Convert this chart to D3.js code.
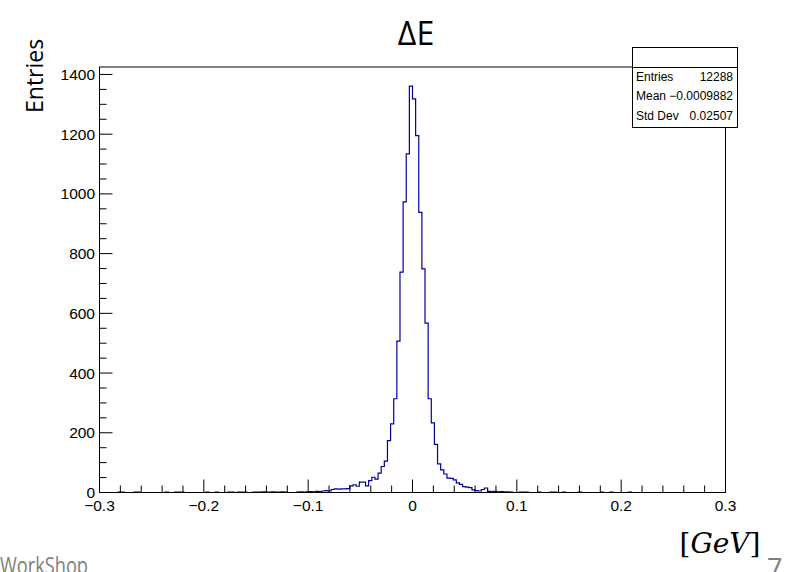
<!DOCTYPE html>
<html>
<head>
<meta charset="utf-8">
<script src="https://cdn.jsdelivr.net/npm/d3@7"></script>
<style>
  body { margin: 0; background: #fff; }
  svg { display: block; }
</style>
</head>
<body>
<svg id="visualization" width="790" height="572"></svg>
<script>
// histogram binning (200 bins, -0.3 .. 0.3)
const xMin = -0.3;
const xMax = 0.3;
const nBins = 200;

// bin contents, left to right
const counts = [
  0, 0, 0, 0, 0, 0, 1, 1, 0, 0,        // -0.300
  0, 1, 1, 0, 0, 0, 0, 0, 0, 0,        // -0.270
  0, 1, 0, 0, 1, 1, 1, 0, 0, 0,        // -0.240
  0, 0, 0, 0, 1, 0, 0, 1, 0, 0,        // -0.210
  0, 1, 1, 0, 1, 1, 1, 0, 0, 1,        // -0.180
  1, 1, 2, 1, 1, 2, 1, 1, 2, 1,        // -0.150
  0, 0, 0, 1, 2, 1, 2, 3, 2, 4,        // -0.120
  3, 5, 6, 5, 10, 12, 11, 12, 12, 13,  // -0.090
  22, 26, 21, 35, 35, 22, 40, 51, 45, 65, // -0.060
  87, 105, 174, 230, 314, 507, 738, 973, 1134, 1361, // -0.030
  1318, 1195, 938, 749, 567, 314, 233, 161, 96, 76,  // 0.000
  62, 48, 47, 42, 32, 27, 20, 18, 16, 9, // 0.030
  6, 5, 10, 15, 4, 3, 4, 2, 3, 2,      // 0.060
  2, 1, 0, 0, 1, 1, 1, 0, 0, 0,        // 0.090
  1, 0, 0, 0, 1, 1, 0, 0, 1, 0,        // 0.120
  0, 0, 0, 1, 0, 0, 0, 0, 0, 0,        // 0.150
  1, 0, 0, 1, 0, 0, 0, 0, 0, 1,        // 0.180
  0, 0, 0, 0, 0, 0, 0, 0, 0, 0,        // 0.210
  0, 0, 0, 0, 0, 0, 0, 0, 0, 0,        // 0.240
  0, 0, 0, 0, 0, 0, 0, 0, 0, 0         // 0.270
];

// axis ticks
const xTicks = [-0.3, -0.2, -0.1, 0, 0.1, 0.2, 0.3];
const yTicks = [0, 200, 400, 600, 800, 1000, 1200, 1400];
const yMax = 1425;

// stats box
const statLabels = ["Entries", "Mean", "Std Dev"];
const statValues = ["12288", "\u22120.0009882", "0.02507"];

const svg = d3.select("#visualization");

const frame = { left: 99.5, right: 725.5, top: 67, bottom: 492.5 };
const tickFont = "'Liberation Sans', Arial, sans-serif";

const x = d3.scaleLinear().domain([xMin, xMax]).range([frame.left, frame.right]);
const y = d3.scaleLinear().domain([0, yMax]).range([frame.bottom, frame.top]);

// build histogram outline points
const binWidth = (xMax - xMin) / nBins;
const pts = counts.map((c, i) => ({ x0: xMin + i * binWidth, c }));
pts.push({ x0: xMax, c: counts[counts.length - 1] });

const line = d3.line()
  .x(d => x(d.x0))
  .y(d => y(d.c))
  .curve(d3.curveStepAfter);

svg.append("path")
  .datum(pts)
  .attr("fill", "none")
  .attr("stroke", "#000099")
  .attr("stroke-width", 1.2)
  .attr("d", line);

// frame
svg.append("rect")
  .attr("x", frame.left)
  .attr("y", frame.top)
  .attr("width", frame.right - frame.left)
  .attr("height", frame.bottom - frame.top)
  .attr("fill", "none")
  .attr("stroke", "#000")
  .attr("stroke-width", 1);

// x axis: major every 0.1, minor every 0.02
const xMinor = d3.range(-15, 16).map(i => i * 0.02);
svg.append("g")
  .selectAll("line")
  .data(xMinor)
  .join("line")
  .attr("x1", d => x(d))
  .attr("x2", d => x(d))
  .attr("y1", frame.bottom)
  .attr("y2", (d, i) => frame.bottom - (i % 5 === 0 ? 13 : 7))
  .attr("stroke", "#000");

svg.append("g")
  .selectAll("text")
  .data(xTicks)
  .join("text")
  .attr("x", d => x(d))
  .attr("y", 511)
  .attr("text-anchor", "middle")
  .style("font-family", tickFont)
  .style("font-size", "15.5px")
  .text(d => d === 0 ? "0" : d3.format(".1f")(d).replace("-", "\u2212"));

// y axis: major every 200, minor every 50
const yMinor = d3.range(0, 29).map(i => i * 50);
svg.append("g")
  .selectAll("line")
  .data(yMinor)
  .join("line")
  .attr("x1", frame.left)
  .attr("x2", (d, i) => frame.left + (i % 4 === 0 ? 13 : 7))
  .attr("y1", d => y(d))
  .attr("y2", d => y(d))
  .attr("stroke", "#000");

svg.append("g")
  .selectAll("text")
  .data(yTicks)
  .join("text")
  .attr("x", 95)
  .attr("y", d => y(d) + 5.5)
  .attr("text-anchor", "end")
  .style("font-family", tickFont)
  .style("font-size", "15.5px")
  .text(d => d);

// titles
svg.append("text")
  .attr("x", 416)
  .attr("y", 45)
  .attr("text-anchor", "middle")
  .style("font-family", "'Open Sans', sans-serif")
  .style("font-size", "32px")
  .text("\u0394E");

svg.append("text")
  .attr("transform", "translate(43,113) rotate(-90)")
  .attr("text-anchor", "start")
  .style("font-family", "'Open Sans', sans-serif")
  .style("font-size", "23px")
  .text("Entries");

// stats box
const box = { x: 632, y: 47, w: 105, h: 80, head: 20 };
svg.append("rect")
  .attr("x", box.x + 0.5)
  .attr("y", box.y + 0.5)
  .attr("width", box.w)
  .attr("height", box.h)
  .attr("fill", "#fff")
  .attr("stroke", "#000");
svg.append("line")
  .attr("x1", box.x)
  .attr("x2", box.x + box.w)
  .attr("y1", box.y + box.head + 0.5)
  .attr("y2", box.y + box.head + 0.5)
  .attr("stroke", "#000");

statLabels.forEach((lab, i) => {
  const ty = box.y + box.head + 14 + i * 19.3;
  svg.append("text")
    .attr("x", box.x + 4)
    .attr("y", ty)
    .style("font-family", tickFont)
    .style("font-size", "12px")
    .text(lab);
  svg.append("text")
    .attr("x", box.x + box.w - 4)
    .attr("y", ty)
    .attr("text-anchor", "end")
    .style("font-family", tickFont)
    .style("font-size", "12px")
    .style("word-spacing", "0")
    .text(statValues[i]);
});

// x-axis unit, set like the slide's math text
const unit = svg.append("text")
  .attr("x", 720)
  .attr("y", 553)
  .attr("text-anchor", "middle")
  .style("font-family", "'DejaVu Serif', serif")
  .style("font-size", "28px");
unit.append("tspan").text("[");
unit.append("tspan").style("font-style", "italic").text("GeV");
unit.append("tspan").text("]");

// slide footer
svg.append("text")
  .attr("x", 0)
  .attr("y", 574)
  .attr("fill", "#7f7f7f")
  .attr("textLength", 88)
  .attr("lengthAdjust", "spacingAndGlyphs")
  .style("font-family", "'Open Sans', sans-serif")
  .style("font-size", "23px")
  .text("WorkShop");

svg.append("text")
  .attr("x", 767)
  .attr("y", 578)
  .attr("fill", "#7f7f7f")
  .style("font-family", "'Open Sans', sans-serif")
  .style("font-size", "27px")
  .text("7");
</script>
</body>
</html>
